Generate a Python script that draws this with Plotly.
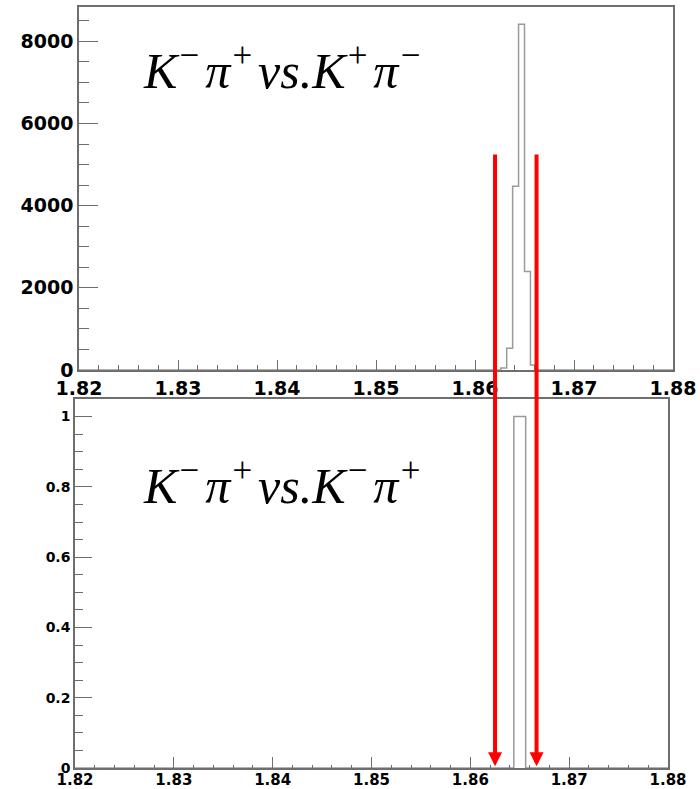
import plotly.graph_objects as go

# Invariant-mass histograms (GeV) for two charge combinations
x_lo, x_hi = 1.82, 1.88

# Upper panel: K-pi+ vs. K+pi- (bin width 0.0006)
top_edges = [1.8626, 1.8632, 1.8638, 1.8644, 1.8650, 1.8656, 1.8662]
top_counts = [50, 529, 4471, 8415, 2398, 122]

# Lower panel: K-pi+ vs. K-pi+ (bin width 0.0012)
bot_edges = [1.8644, 1.8656]
bot_counts = [1]

# Mass window cuts marked with arrows
cut_values = [1.8625, 1.8667]

sp = "\u200a"  # hair space after each superscript
top_label = ("<i>K<sup>\u2212</sup>" + sp + "\u03c0<sup>+</sup>" + sp +
             "vs.K<sup>+</sup>" + sp + "\u03c0<sup>\u2212</sup></i>")
bot_label = ("<i>K<sup>\u2212</sup>" + sp + "\u03c0<sup>+</sup>" + sp +
             "vs.K<sup>\u2212</sup>" + sp + "\u03c0<sup>+</sup></i>")


def step_xy(edges, counts):
    """Outline of a histogram as an 'hv' step path spanning the full axis."""
    xs = [x_lo] + list(edges) + [x_hi]
    ys = [0] + list(counts) + [0, 0]
    return xs, ys


fig = go.Figure()

tx, ty = step_xy(top_edges, top_counts)
fig.add_trace(go.Scatter(x=tx, y=ty, mode="lines", line_shape="hv",
                         line=dict(color="#9a9a9a", width=1.5),
                         xaxis="x", yaxis="y", hoverinfo="skip"))

bx, by = step_xy(bot_edges, bot_counts)
fig.add_trace(go.Scatter(x=bx, y=by, mode="lines", line_shape="hv",
                         line=dict(color="#9a9a9a", width=1.5),
                         xaxis="x2", yaxis="y2", hoverinfo="skip"))

W, H = 700, 789
axis_col = "#6e6e6e"

big_font = dict(family="DejaVu Sans", size=19, color="black", weight="bold")
small_font_y = dict(family="DejaVu Sans", size=14, color="black", weight="bold")
small_font_x = dict(family="DejaVu Sans", size=15, color="black", weight="bold")

common = dict(showgrid=False, zeroline=False, showline=True, linecolor=axis_col,
              linewidth=1.5, mirror=True, ticks="inside", tickcolor=axis_col,
              tickwidth=1.2, automargin=False)

fig.update_layout(
    width=W, height=H,
    margin=dict(l=0, r=0, t=0, b=0, autoexpand=False),
    paper_bgcolor="white", plot_bgcolor="white",
    showlegend=False,
    xaxis=dict(domain=[79 / W, 673 / W], anchor="y", range=[x_lo, x_hi],
               dtick=0.01, tick0=1.82, tickformat=".2f", ticklen=10,
               minor=dict(dtick=0.002, ticklen=5, ticks="inside", tickcolor=axis_col),
               tickfont=big_font, **common),
    yaxis=dict(domain=[(H - 370) / H, (H - 7) / H], anchor="x",
               range=[0, max(top_counts) * 1.05], dtick=2000, ticklen=19,
               minor=dict(dtick=500, ticklen=10, ticks="inside", tickcolor=axis_col),
               tickfont=big_font, **common),
    xaxis2=dict(domain=[75 / W, 668 / W], anchor="y2", range=[x_lo, x_hi],
                dtick=0.01, tick0=1.82, tickformat=".2f", ticklen=11,
                minor=dict(dtick=0.002, ticklen=3.5, ticks="inside", tickcolor=axis_col),
                tickfont=small_font_x, ticklabelstandoff=-3, **common),
    yaxis2=dict(domain=[(H - 768) / H, (H - 399) / H], anchor="x2",
                range=[0, max(bot_counts) * 1.05], dtick=0.2, ticklen=17,
                minor=dict(dtick=0.05, ticklen=8, ticks="inside", tickcolor=axis_col),
                tickfont=small_font_y, **common),
)

label_font = dict(family="Liberation Serif", size=50, color="black")
fig.add_annotation(text=top_label, xref="x domain", yref="y domain",
                   x=0.105, y=0.74, xanchor="left", yanchor="bottom",
                   showarrow=False, font=label_font)
fig.add_annotation(text=bot_label, xref="x2 domain", yref="y2 domain",
                   x=0.112, y=0.683, xanchor="left", yanchor="bottom",
                   showarrow=False, font=label_font)

# Red arrows marking the signal window, running from the upper panel
# down to the lower panel's axis
for cut in cut_values:
    fig.add_annotation(x=cut, y=0.005, xref="x2", yref="y2",
                       ax=cut, ay=1.75, axref="x2", ayref="y2",
                       text="", showarrow=True, arrowhead=2, arrowsize=0.7,
                       arrowwidth=4, arrowcolor="#ff0000", standoff=0)

fig.write_html("out.html")
